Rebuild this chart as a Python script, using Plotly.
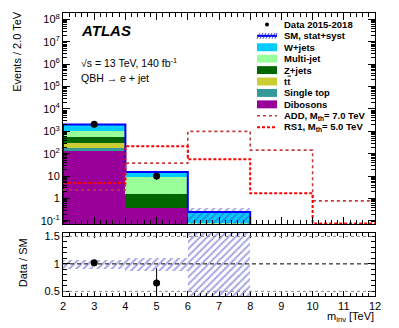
import plotly.graph_objects as go

# bin edges and centres [TeV]
edges = [2, 4, 6, 8, 10, 12]
centres = [3, 5, 7]

# background stack per bin (only the first three bins have SM events)
dibosons = [138, 0.38, 0]
single_top = [44, 0, 0]
ttbar = [120, 0, 0]
zjets = [238, 1.2, 0]
multijet = [460, 7.5, 0.08]
wjets = [1050, 6.3, 0.17]

# SM stat+syst band (main panel) and ratio band
band_lo = [1930, 13.6, 0.05]
band_hi = [2220, 17.1, 0.38]
ratio_band_lo = [0.92, 0.88, 0.3]
ratio_band_hi = [1.08, 1.11, 1.7]

# data
data_x = [3, 5]
data_y = [2090, 10]
data_err = [46, 3.2]
ratio_y = [1.02, 0.65]
ratio_err_up = [0.03, 0.27]
ratio_err_dn = [0.03, 0.35]

# signals
add_vals = [2.4, 38, 1000, 145, 0.78]
rs1_vals = [4.9, 215, 57, 1.7, 0.077]

FLOOR = 1e-3  # below the visible range, closes the outline

FONT = "Liberation Sans"
OFF = 8  # page body margin

# cumulative stack from bottom to top
names = ["Dibosons", "Single top", "tt", "Z+jets", "Multi-jet", "W+jets"]
colors = ["#990099", "#339999", "#cccc33", "#006600", "#99ff99", "#00ccff"]
comps = [dibosons, single_top, ttbar, zjets, multijet, wjets]
cum = []
run = [0, 0, 0]
for c in comps:
    run = [a + b for a, b in zip(run, c)]
    cum.append(run)
sm_total = cum[-1]

fig = go.Figure()

# draw the stack top-down so lower components sit in front
for name, col, vals in reversed(list(zip(names, colors, cum))):
    fig.add_trace(go.Bar(x=centres, y=[v if v > 0 else None for v in vals], width=2,
                         marker=dict(color=col, line=dict(width=0)),
                         name=name, showlegend=False, xaxis="x", yaxis="y"))

# uncertainty band (hatched)
hatch = dict(color="rgba(0,0,0,0)", line=dict(width=0),
             pattern=dict(shape="/", fgcolor="#4b4bc8", size=5, solidity=0.4))
fig.add_trace(go.Bar(x=centres, base=band_lo, y=[h - l for h, l in zip(band_hi, band_lo)],
                     width=2, marker=hatch, showlegend=False, xaxis="x", yaxis="y"))

# SM outline
fig.add_trace(go.Scatter(x=[edges[0]] + edges[:4], y=[FLOOR] + sm_total + [FLOOR],
                         mode="lines", line=dict(color="#0000ff", width=2, shape="hv"),
                         showlegend=False, xaxis="x", yaxis="y"))

# signals
fig.add_trace(go.Scatter(x=edges, y=add_vals + [add_vals[-1]], mode="lines",
                         line=dict(color="#c23a3a", width=1.6, dash="dot", shape="hv"),
                         showlegend=False, xaxis="x", yaxis="y"))
fig.add_trace(go.Scatter(x=edges, y=rs1_vals + [rs1_vals[-1]], mode="lines",
                         line=dict(color="#ff0000", width=2, dash="3px,2px", shape="hv"),
                         showlegend=False, xaxis="x", yaxis="y"))

# data
fig.add_trace(go.Scatter(x=data_x, y=data_y, mode="markers",
                         marker=dict(color="black", size=7),
                         error_y=dict(type="data", array=data_err, color="black", thickness=1, width=0),
                         showlegend=False, xaxis="x", yaxis="y"))

# ratio panel
fig.add_trace(go.Bar(x=centres, base=ratio_band_lo,
                     y=[h - l for h, l in zip(ratio_band_hi, ratio_band_lo)],
                     width=2, marker=hatch, showlegend=False, xaxis="x2", yaxis="y2"))
fig.add_trace(go.Scatter(x=data_x, y=ratio_y, mode="markers",
                         marker=dict(color="black", size=7),
                         error_y=dict(type="data", array=ratio_err_up, arrayminus=ratio_err_dn,
                                      color="black", thickness=1, width=0),
                         showlegend=False, xaxis="x2", yaxis="y2"))

# pixel -> paper helpers (plot area 63..375 x 11..296 in window pixels)
L, R, T, B = 63, 375, 11, 296
W, H = 399 - OFF, 328 - OFF
def px(x):
    return (x - L) / (R - L)
def py(y):
    return (B - y) / (B - T)

main_bottom = py(223.5)
ratio_top = py(232.3)

axis_common = dict(showline=True, linecolor="black", linewidth=1, mirror="allticks",
                   ticks="inside", tickcolor="black", showgrid=False, zeroline=False,
                   tickfont=dict(family=FONT, size=11, color="black"))

fig.update_layout(
    width=W, height=H,
    margin=dict(l=L - OFF, r=399 - R, t=T - OFF, b=328 - B),
    paper_bgcolor="white", plot_bgcolor="white",
    barmode="overlay", bargap=0,
    showlegend=False,
    xaxis=dict(range=[2, 12], domain=[0, 1], anchor="y", showticklabels=False,
               dtick=1, ticklen=7, minor=dict(dtick=0.2, ticklen=4, ticks="inside", tickcolor="black"),
               **axis_common),
    yaxis=dict(type="log", range=[-1.14, 8.29], domain=[main_bottom, 1], anchor="x",
               tickvals=[10 ** k for k in range(-1, 9)],
               ticktext=["10<sup>-1</sup>", "1", "10"] + ["10<sup>%d</sup>" % k for k in range(2, 9)],
               ticklen=7, minor=dict(dtick="D1", ticklen=4, ticks="inside", tickcolor="black"),
               **axis_common),
    xaxis2=dict(range=[2, 12], domain=[0, 1], anchor="y2", dtick=1, ticklen=5,
                ticklabelstandoff=0,
                minor=dict(dtick=0.2, ticklen=3, ticks="inside", tickcolor="black"),
                **axis_common),
    yaxis2=dict(range=[0.415, 1.567], domain=[0, ratio_top], anchor="x2",
                tickvals=[0.5, 1, 1.5], ticktext=["0.5", "1", "1.5"], ticklen=7,
                minor=dict(dtick=0.1, ticklen=4, ticks="inside", tickcolor="black"),
                **axis_common),
)

# reference lines in ratio panel
fig.add_shape(type="line", xref="x2", yref="y2", x0=2, x1=12, y0=1, y1=1,
              line=dict(color="black", width=1, dash="4px,3px"))
for yv in (0.5, 1.5):
    fig.add_shape(type="line", xref="x2", yref="y2", x0=2, x1=12, y0=yv, y1=yv,
                  line=dict(color="#888888", width=1, dash="dot"))

def text(x, y, s, size=11, anchor="left", **kw):
    fig.add_annotation(x=px(x), y=py(y), xref="paper", yref="paper", text=s, showarrow=False,
                       xanchor=anchor, yanchor="middle",
                       font=dict(family=FONT, size=size, color="black"), **kw)

text(79, 28.5, "<b><i>ATLAS</i></b>", size=15)
text(79, 61, "√s = 13 TeV, 140 fb<sup>-1</sup>", size=10.5)
text(79, 76, "QBH → e + jet", size=10.5)
text(17, 50, "Events / 2.0 TeV", size=11, anchor="center", textangle=-90)
text(23, 263, "Data / SM", size=11, anchor="center", textangle=-90)
text(376, 317, "m<sub>inv</sub> [TeV]", size=11, anchor="right")

# legend
leg_labels = ["Data 2015-2018", "SM, stat+syst", "W+jets", "Multi-jet", "Z+jets", "tt",
              "Single top", "Dibosons", "ADD, M<sub>th</sub>= 7.0 TeV", "RS1, M<sub>th</sub>= 5.0 TeV"]
x0, x1, xt = 257, 277, 282
for i, lab in enumerate(leg_labels):
    y = 22.5 + 11.5 * i
    text(xt, y, "<b>%s</b>" % lab, size=9.5)
    if i == 0:
        fig.add_shape(type="circle", xref="paper", yref="paper",
                      x0=px(265), x1=px(269), y0=py(y + 2), y1=py(y - 2),
                      fillcolor="black", line=dict(width=0))
    elif i == 1:
        for k in range(7):
            xa = x0 + 3 * k
            fig.add_shape(type="line", xref="paper", yref="paper",
                          x0=px(xa), x1=px(min(xa + 3, x1)), y0=py(y + 3), y1=py(y - 3),
                          line=dict(color="#4b4bc8", width=1))
        fig.add_shape(type="line", xref="paper", yref="paper", x0=px(x0), x1=px(x1),
                      y0=py(y), y1=py(y), line=dict(color="#0000ff", width=2))
    elif i < 8:
        col = colors[::-1][i - 2]
        fig.add_shape(type="rect", xref="paper", yref="paper", x0=px(x0), x1=px(x1),
                      y0=py(y + 4), y1=py(y - 4), fillcolor=col, line=dict(width=0))
        if i == 5:
            # bar over the second t of "tt"
            fig.add_shape(type="line", xref="paper", yref="paper", x0=px(287.5), x1=px(291),
                          y0=py(y - 5.5), y1=py(y - 5.5), line=dict(color="black", width=1))
    elif i == 8:
        fig.add_shape(type="line", xref="paper", yref="paper", x0=px(x0), x1=px(x1),
                      y0=py(y), y1=py(y), line=dict(color="#c23a3a", width=1.6, dash="dot"))
    else:
        fig.add_shape(type="line", xref="paper", yref="paper", x0=px(x0), x1=px(x1),
                      y0=py(y), y1=py(y), line=dict(color="#ff0000", width=2, dash="3px,2px"))

fig.write_html("out.html")
